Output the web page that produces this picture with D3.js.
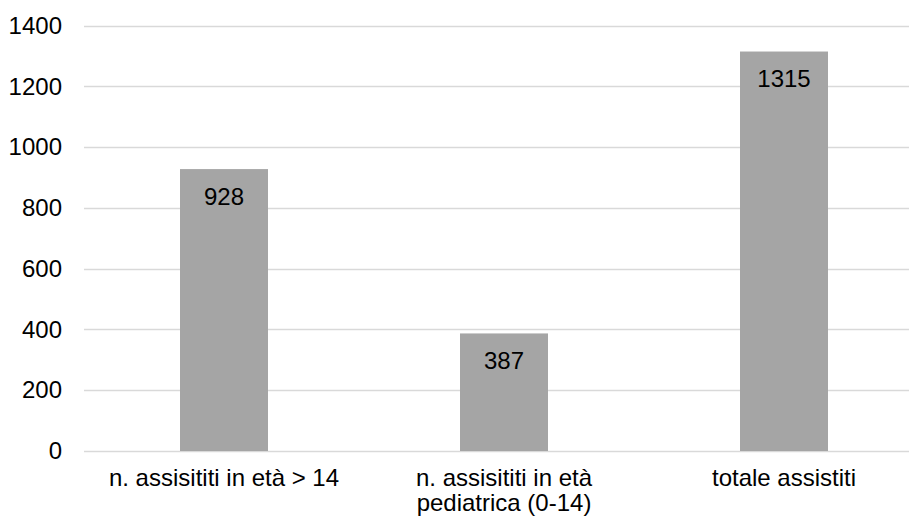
<!DOCTYPE html>
<html>
<head>
<meta charset="utf-8">
<script src="https://cdn.jsdelivr.net/npm/d3@7"></script>
<style>
  html, body { margin: 0; padding: 0; background: #fff; }
  svg { display: block; font-family: "Liberation Sans", Arial, sans-serif; }
</style>
</head>
<body>
<svg id="chart" width="909" height="517"></svg>
<script>
// Patients assisted, by age group and in total
const categories = ["n. assisititi in età > 14", "n. assisititi in età pediatrica (0-14)", "totale assistiti"];
const categoryLines = [["n. assisititi in età > 14"], ["n. assisititi in età", "pediatrica (0-14)"], ["totale assistiti"]];
const values = [928, 387, 1315];
const yTicks = [0, 200, 400, 600, 800, 1000, 1200, 1400];

const fontSize = 24;
const svg = d3.select("#chart");

const x = d3.scaleBand()
  .domain(categories)
  .range([84, 924])
  .paddingInner(0.6857)
  .paddingOuter(0.34285);

const y = d3.scaleLinear()
  .domain([0, 1400])
  .range([451, 25.7]);

// horizontal gridlines
svg.append("g")
  .selectAll("line")
  .data(yTicks)
  .join("line")
  .attr("x1", 84)
  .attr("x2", 924)
  .attr("y1", d => Math.round(y(d)) + 0.5)
  .attr("y2", d => Math.round(y(d)) + 0.5)
  .attr("stroke", "#d9d9d9")
  .attr("stroke-width", 1.3);

// y axis labels
const yAxis = d3.axisLeft(y).tickValues(yTicks).tickFormat(d3.format("d")).tickSize(0).tickPadding(0);
svg.append("g")
  .attr("transform", "translate(62,0)")
  .call(yAxis)
  .call(g => g.select(".domain").remove())
  .call(g => g.selectAll("text")
    .attr("font-size", fontSize)
    .attr("font-family", "'Liberation Sans', Arial, sans-serif")
    .attr("fill", "#000"));

// bars
svg.append("g")
  .selectAll("rect")
  .data(values)
  .join("rect")
  .attr("x", (d, i) => x(categories[i]))
  .attr("y", d => y(d))
  .attr("width", x.bandwidth())
  .attr("height", d => y(0) - y(d))
  .attr("fill", "#a5a5a5");

// value labels inside bars
svg.append("g")
  .selectAll("text")
  .data(values)
  .join("text")
  .attr("x", (d, i) => x(categories[i]) + x.bandwidth() / 2)
  .attr("y", d => y(d) + 35.5)
  .attr("text-anchor", "middle")
  .attr("font-size", fontSize)
  .attr("fill", "#000")
  .text(d => d);

// category labels
const cat = svg.append("g")
  .selectAll("text")
  .data(categories)
  .join("text")
  .attr("x", d => x(d) + x.bandwidth() / 2)
  .attr("y", 486)
  .attr("text-anchor", "middle")
  .attr("font-size", fontSize)
  .attr("fill", "#000");

cat.each(function (d, i) {
  d3.select(this).selectAll("tspan")
    .data(categoryLines[i])
    .join("tspan")
    .attr("x", x(d) + x.bandwidth() / 2)
    .attr("dy", (t, j) => j === 0 ? 0 : 25)
    .text(t => t);
});
</script>
</body>
</html>
